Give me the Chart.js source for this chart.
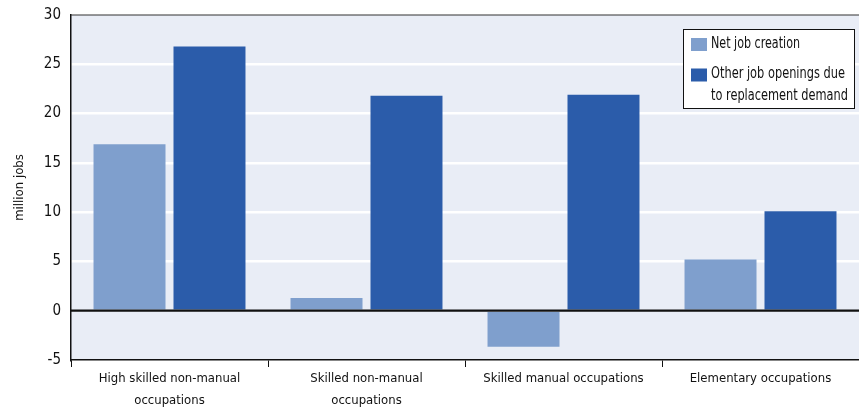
<!DOCTYPE html>
<html>
<head>
<meta charset="utf-8">
<script src="https://cdn.jsdelivr.net/npm/chart.js@4/dist/chart.umd.min.js"></script>
<style>
  html, body { margin: 0; padding: 0; background: #ffffff; }
  #wrap { width: 859px; height: 410px; position: relative; }
</style>
</head>
<body>
<div id="wrap"><canvas id="c"></canvas></div>
<script>
// Occupation groups (two-line labels)
const categories = [
  ['High skilled non-manual', 'occupations'],
  ['Skilled non-manual', 'occupations'],
  'Skilled manual occupations',
  'Elementary occupations'
];
// Million jobs
const netJobCreation = [16.9, 1.3, -3.65, 5.2];
const replacementDemand = [26.8, 21.8, 21.9, 10.1];
const seriesNames = ['Net job creation', 'Other job openings due to replacement demand'];
const legendLines = [['Net job creation'], ['Other job openings due', 'to replacement demand']];
const yTicks = [-5, 0, 5, 10, 15, 20, 25, 30];

const FONT = "'Liberation Sans Narrow', 'DejaVu Sans Condensed', 'Arial Narrow', sans-serif";
const LIGHT = '#7f9fcd';
const DARK = '#2b5caa';
const PANEL = '#e9edf6';

const panelPlugin = {
  id: 'panel',
  beforeDraw(chart) {
    const { ctx, chartArea: a } = chart;
    ctx.save();
    ctx.fillStyle = PANEL;
    ctx.fillRect(a.left, a.top, a.right - a.left, a.bottom - a.top);
    ctx.restore();
  },
  afterDatasetsDraw(chart) {
    const { ctx, chartArea: a, scales } = chart;
    ctx.save();
    // zero line
    const y0 = scales.y.getPixelForValue(0);
    ctx.strokeStyle = '#111111';
    ctx.lineWidth = 2.2;
    ctx.beginPath();
    ctx.moveTo(a.left, y0);
    ctx.lineTo(a.right, y0);
    ctx.stroke();
    // top frame line
    ctx.strokeStyle = '#333333';
    ctx.lineWidth = 1.2;
    ctx.beginPath();
    ctx.moveTo(a.left, a.top);
    ctx.lineTo(a.right, a.top);
    ctx.stroke();
    ctx.restore();
  },
  afterDraw(chart) {
    // legend box
    const { ctx } = chart;
    const bx = 683.5, by = 29.5, bw = 171, bh = 79;
    ctx.save();
    ctx.fillStyle = '#ffffff';
    ctx.fillRect(bx, by, bw, bh);
    ctx.strokeStyle = '#111111';
    ctx.lineWidth = 1;
    ctx.strokeRect(bx, by, bw, bh);
    ctx.font = '15px ' + FONT;
    ctx.textBaseline = 'middle';
    const sw = [38, 68.5];
    const lineY = [[44.5], [74, 96]];
    const widths = [[89], [134, 137]];
    chart.data.datasets.forEach((ds, i) => {
      ctx.fillStyle = ds.backgroundColor;
      ctx.fillRect(691, sw[i], 16, 13);
      ctx.fillStyle = '#111111';
      legendLines[i].forEach((t, j) => ctx.fillText(t, 711, lineY[i][j], widths[i][j]));
    });
    ctx.restore();
  }
};

new Chart(document.getElementById('c'), {
  type: 'bar',
  data: {
    labels: categories,
    datasets: [
      { label: seriesNames[0], data: netJobCreation, backgroundColor: LIGHT },
      { label: seriesNames[1], data: replacementDemand, backgroundColor: DARK }
    ]
  },
  options: {
    responsive: true,
    maintainAspectRatio: false,
    animation: false,
    layout: { padding: { top: 15, right: 0, left: 0, bottom: 0 } },
    datasets: { bar: { categoryPercentage: 0.812, barPercentage: 0.9 } },
    plugins: { legend: { display: false }, tooltip: { enabled: false } },
    scales: {
      x: {
        grid: {
          offset: true,
          drawOnChartArea: false,
          drawTicks: true,
          tickLength: 7,
          color: '#111111',
          lineWidth: 1
        },
        border: { display: true, color: '#111111', width: 1.5 },
        ticks: {
          color: '#111111',
          font: { family: FONT, size: 13, lineHeight: 1.65 },
          padding: 1,
          maxRotation: 0,
          autoSkip: false
        },
        afterFit(scale) { scale.height = 50; }
      },
      y: {
        min: -5,
        max: 30,
        afterBuildTicks(scale) { scale.ticks = yTicks.map(v => ({ value: v })); },
        grid: {
          drawTicks: false,
          color: ctx => (ctx.tick && (ctx.tick.value === 0 || ctx.tick.value === -5 || ctx.tick.value === 30)) ? 'rgba(0,0,0,0)' : '#ffffff',
          lineWidth: 2.5
        },
        border: { display: true, color: '#111111', width: 1.5 },
        ticks: {
          color: '#111111',
          font: { family: FONT, size: 15 },
          padding: 10
        },
        title: {
          display: true,
          text: 'million jobs',
          color: '#111111',
          font: { family: FONT, size: 13 },
          padding: { top: 12, bottom: 0 }
        },
        afterFit(scale) {
          scale.width = 71;
          scale.paddingTop = 0;
          scale.paddingBottom = 0;
        }
      }
    }
  },
  plugins: [panelPlugin]
});
</script>
</body>
</html>
